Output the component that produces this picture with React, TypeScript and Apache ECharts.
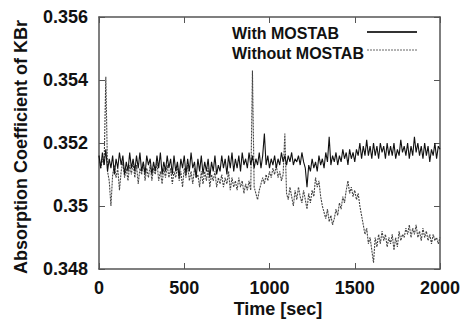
import React, { useEffect, useRef } from "react";
import * as echarts from "echarts";

const timeStep = 10;
const withMostab: number[] = [
  0.3516, 0.3512, 0.3517, 0.3513, 0.3518, 0.3511, 0.3515, 0.3512, 0.3516, 0.3510, 0.3515,
  0.3512, 0.3517, 0.3513, 0.3516, 0.3510, 0.3514, 0.3511, 0.3517, 0.3512, 0.3515,
  0.3511, 0.3516, 0.3512, 0.3517, 0.3511, 0.3514, 0.3510, 0.3516, 0.3513, 0.3515,
  0.3510, 0.3514, 0.3511, 0.3516, 0.3512, 0.3517, 0.3510, 0.3514, 0.3511, 0.3516,
  0.3512, 0.3515, 0.3510, 0.3516, 0.3511, 0.3514, 0.3509, 0.3515, 0.3512, 0.3516,
  0.3510, 0.3515, 0.3511, 0.3517, 0.3512, 0.3514, 0.3509, 0.3515, 0.3511, 0.3516,
  0.3510, 0.3514, 0.3511, 0.3515, 0.3509, 0.3514, 0.3511, 0.3516, 0.3510, 0.3513,
  0.3511, 0.3516, 0.3512, 0.3515, 0.3510, 0.3516, 0.3512, 0.3517, 0.3511, 0.3515,
  0.3512, 0.3516, 0.3511, 0.3517, 0.3513, 0.3515, 0.3512, 0.3517, 0.3513, 0.3516,
  0.3512, 0.3515, 0.3513, 0.3517, 0.3512, 0.3516, 0.3523, 0.3513, 0.3516, 0.3512,
  0.3515, 0.3513, 0.3516, 0.3512, 0.3515, 0.3513, 0.3517, 0.3514, 0.3516, 0.3513,
  0.3516, 0.3514, 0.3517, 0.3513, 0.3515, 0.3514, 0.3516, 0.3513, 0.3517, 0.3514,
  0.3512, 0.3506, 0.3513, 0.3511, 0.3515, 0.3512, 0.3514, 0.3511, 0.3516, 0.3513,
  0.3515, 0.3512, 0.3517, 0.3514, 0.3522, 0.3513, 0.3516, 0.3514, 0.3517, 0.3513,
  0.3516, 0.3514, 0.3518, 0.3515, 0.3517, 0.3513, 0.3518, 0.3515, 0.3517, 0.3514,
  0.3518, 0.3516, 0.3520, 0.3515, 0.3519, 0.3516, 0.3521, 0.3516, 0.3519, 0.3515,
  0.3520, 0.3516, 0.3519, 0.3515, 0.3520, 0.3517, 0.3519, 0.3515, 0.3520, 0.3516,
  0.3519, 0.3516, 0.3520, 0.3515, 0.3518, 0.3516, 0.3521, 0.3517, 0.3519, 0.3516,
  0.3520, 0.3515, 0.3519, 0.3516, 0.3522, 0.3517, 0.3520, 0.3516, 0.3519, 0.3515,
  0.3520, 0.3516, 0.3519, 0.3514, 0.3518, 0.3516, 0.3520, 0.3515, 0.3519, 0.3518,
];
const withoutMostab: number[] = [
  0.3516, 0.3512, 0.3515, 0.3513, 0.3541, 0.3511, 0.3508, 0.3500, 0.3510, 0.3513, 0.3509,
  0.3512, 0.3505, 0.3511, 0.3514, 0.3509, 0.3512, 0.3508, 0.3513, 0.3510, 0.3514,
  0.3509, 0.3513, 0.3507, 0.3512, 0.3510, 0.3514, 0.3508, 0.3512, 0.3509, 0.3513,
  0.3508, 0.3512, 0.3510, 0.3514, 0.3508, 0.3511, 0.3507, 0.3512, 0.3509, 0.3513,
  0.3509, 0.3512, 0.3507, 0.3511, 0.3509, 0.3513, 0.3508, 0.3511, 0.3506, 0.3512,
  0.3509, 0.3513, 0.3508, 0.3511, 0.3507, 0.3512, 0.3509, 0.3510, 0.3506, 0.3511,
  0.3507, 0.3511, 0.3508, 0.3512, 0.3506, 0.3510, 0.3508, 0.3511, 0.3506, 0.3509,
  0.3507, 0.3510, 0.3506, 0.3509, 0.3507, 0.3511, 0.3505, 0.3509, 0.3506, 0.3508,
  0.3505, 0.3509, 0.3506, 0.3508, 0.3504, 0.3507, 0.3505, 0.3508, 0.3505, 0.3543,
  0.3506, 0.3504, 0.3502, 0.3505, 0.3507, 0.3509, 0.3507, 0.3510, 0.3508, 0.3511,
  0.3509, 0.3512, 0.3510, 0.3513, 0.3509, 0.3511, 0.3508, 0.3510, 0.3523, 0.3504,
  0.3502, 0.3506, 0.3503, 0.3500, 0.3505, 0.3502, 0.3506, 0.3503, 0.3501, 0.3505,
  0.3502, 0.3499, 0.3504, 0.3501, 0.3505, 0.3503, 0.3509, 0.3506, 0.3508, 0.3503,
  0.3500, 0.3498, 0.3496, 0.3499, 0.3495, 0.3497, 0.3494, 0.3496, 0.3499, 0.3497,
  0.3501, 0.3499, 0.3503, 0.3501, 0.3505, 0.3508, 0.3504, 0.3506, 0.3503, 0.3505,
  0.3502, 0.3504, 0.3500, 0.3497, 0.3494, 0.3491, 0.3493, 0.3488, 0.3490, 0.3486,
  0.3482, 0.3490, 0.3487, 0.3491, 0.3488, 0.3492, 0.3489, 0.3491, 0.3487, 0.3490,
  0.3488, 0.3491, 0.3486, 0.3490, 0.3487, 0.3492, 0.3489, 0.3491, 0.3490, 0.3493,
  0.3491, 0.3494, 0.3490, 0.3493, 0.3491, 0.3494, 0.3490, 0.3492, 0.3489, 0.3493,
  0.3490, 0.3492, 0.3489, 0.3491, 0.3488, 0.3491, 0.3489, 0.3490, 0.3488, 0.3490,
];
const seriesNames = ["With MOSTAB", "Without MOSTAB"];
const xTitle = "Time [sec]";
const yTitle = "Absorption Coefficient of KBr";

const FONT = "Liberation Sans, Arial, Helvetica, sans-serif";

export default function App() {
  const ref = useRef<HTMLDivElement>(null);
  useEffect(() => {
    if (!ref.current) return;
    const chart = echarts.init(ref.current, undefined, { renderer: "svg" });
    const toPairs = (arr: number[]) => arr.map((v, i) => [i * timeStep, v]);
    const frameColor = "#555";
    const tick = { show: true, inside: true, length: 6, lineStyle: { color: frameColor, width: 1 } };
    const xBase = {
      type: "value" as const,
      min: 0,
      max: 2000,
      interval: 500,
      splitLine: { show: false },
      axisLine: { show: true, onZero: false, lineStyle: { color: frameColor, width: 1.5 } },
      axisTick: tick,
    };
    const yBase = {
      type: "value" as const,
      min: 0.348,
      max: 0.356,
      interval: 0.002,
      splitLine: { show: false },
      axisLine: { show: true, onZero: false, lineStyle: { color: frameColor, width: 1.5 } },
      axisTick: tick,
    };
    chart.setOption({
      animation: false,
      backgroundColor: "#fff",
      grid: { left: 99, right: 24, top: 17, bottom: 51 },
      xAxis: [
        {
          ...xBase,
          position: "bottom",
          axisLabel: {
            color: "#111",
            fontSize: 18,
            fontWeight: "bold",
            fontFamily: FONT,
            margin: 10,
            formatter: (v: number) => String(v),
          },
        },
        { ...xBase, position: "top", axisLabel: { show: false } },
      ],
      yAxis: [
        {
          ...yBase,
          position: "left",
          axisLabel: {
            color: "#111",
            fontSize: 18,
            fontWeight: "bold",
            fontFamily: FONT,
            margin: 11,
            formatter: (v: number) => String(parseFloat(v.toFixed(3))),
          },
        },
        { ...yBase, position: "right", axisLabel: { show: false } },
      ],
      series: [
        {
          name: seriesNames[0],
          type: "line",
          data: toPairs(withMostab),
          showSymbol: false,
          xAxisIndex: 0,
          yAxisIndex: 0,
          lineStyle: { color: "#111", width: 1.1 },
          z: 3,
        },
        {
          name: seriesNames[1],
          type: "line",
          data: toPairs(withoutMostab),
          showSymbol: false,
          xAxisIndex: 0,
          yAxisIndex: 0,
          lineStyle: { color: "#444", width: 1.1, type: [2, 1] },
          z: 2,
        },
      ],
      graphic: [
        {
          type: "text",
          x: 278,
          y: 309,
          style: { text: xTitle, font: `bold 18px ${FONT}`, fill: "#111", align: "center", verticalAlign: "middle" },
        },
        {
          type: "text",
          x: 21,
          y: 147,
          rotation: Math.PI / 2,
          style: { text: yTitle, font: `bold 18px ${FONT}`, fill: "#111", align: "center", verticalAlign: "middle" },
        },
        {
          type: "text",
          x: 232,
          y: 33,
          style: { text: seriesNames[0], font: `bold 16px ${FONT}`, fill: "#111", align: "left", verticalAlign: "middle" },
        },
        {
          type: "text",
          x: 232,
          y: 53,
          style: { text: seriesNames[1], font: `bold 16px ${FONT}`, fill: "#111", align: "left", verticalAlign: "middle" },
        },
        {
          type: "line",
          shape: { x1: 367, y1: 32, x2: 417, y2: 32 },
          style: { stroke: "#333", lineWidth: 1.8 },
        },
        {
          type: "line",
          shape: { x1: 367, y1: 50, x2: 417, y2: 50 },
          style: { stroke: "#666", lineWidth: 1, lineDash: [2, 1] },
        },
      ],
    });
    return () => chart.dispose();
  }, []);
  return (
    <div
      ref={ref}
      style={{ position: "fixed", left: 0, top: 0, width: 464, height: 320 }}
    />
  );
}
